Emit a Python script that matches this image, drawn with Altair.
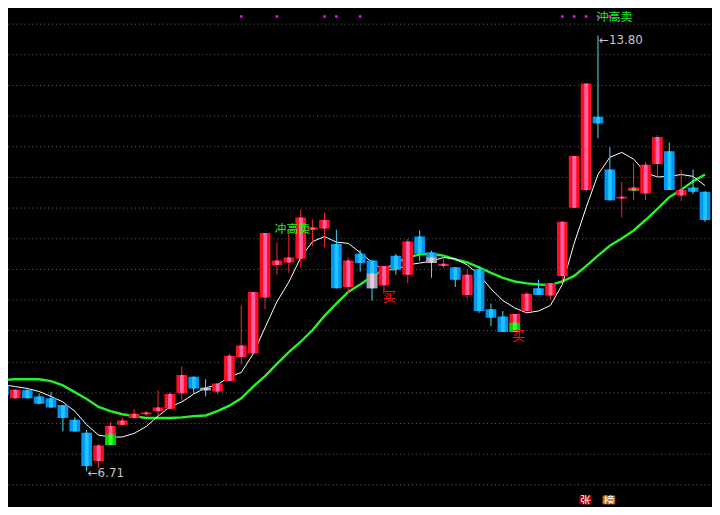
import altair as alt
import pandas as pd
import numpy as np

# ---- candle data (index, open, high, low, close) ----
idx = list(range(-1, 59))
opens = [8.11, 7.90, 8.03, 7.93, 7.90, 7.79, 7.55, 7.34, 6.88, 7.14,
         7.47, 7.58, 7.64, 7.69, 7.73, 7.98, 8.25, 8.07, 8.01, 8.18,
         8.57, 8.63, 9.54, 10.07, 10.11, 10.17, 10.64, 10.66, 10.41, 9.71,
         10.25, 10.14, 9.74, 10.22, 9.91, 10.53, 10.27, 10.05, 10.03, 9.58,
         10.00, 9.35, 9.23, 8.98, 9.32, 9.69, 9.57, 9.89, 11.00, 11.29,
         12.48, 11.62, 11.15, 11.28, 11.23, 11.71, 11.92, 11.20, 11.33, 11.26]
highs = [8.13, 8.05, 8.07, 7.98, 8.00, 7.79, 7.59, 7.39, 7.16, 7.51,
         7.59, 7.73, 7.70, 8.03, 8.00, 8.42, 8.25, 8.21, 8.14, 8.63,
         9.41, 9.63, 10.59, 10.44, 10.64, 10.97, 10.81, 10.92, 10.64, 10.19,
         10.31, 10.14, 10.05, 10.25, 10.49, 10.63, 10.30, 10.19, 10.03, 9.99,
         10.05, 9.44, 9.32, 9.27, 9.63, 9.83, 9.77, 10.77, 11.84, 13.02,
         13.80, 11.98, 11.42, 11.73, 11.75, 12.18, 12.06, 11.62, 11.62, 11.26]
lows = [7.93, 7.89, 7.90, 7.81, 7.75, 7.36, 7.36, 6.71, 6.77, 7.14,
        7.46, 7.57, 7.61, 7.61, 7.73, 7.86, 7.98, 7.93, 7.97, 8.18,
        8.45, 8.63, 9.35, 9.91, 9.94, 10.03, 10.38, 10.36, 9.69, 9.60,
        9.96, 9.49, 9.60, 9.91, 9.77, 10.13, 9.86, 10.02, 9.71, 9.52,
        9.29, 9.07, 8.98, 8.98, 9.32, 9.58, 9.51, 9.80, 11.00, 11.26,
        12.13, 11.12, 10.84, 11.12, 11.12, 11.48, 11.29, 11.11, 11.22, 10.77]
closes = [7.95, 8.04, 7.90, 7.81, 7.75, 7.58, 7.36, 6.80, 7.13, 7.45,
          7.54, 7.65, 7.67, 7.75, 7.97, 8.28, 8.06, 8.03, 8.14, 8.59,
          8.76, 9.63, 10.59, 10.14, 10.19, 10.84, 10.68, 10.80, 9.69, 10.14,
          10.10, 9.69, 10.05, 9.99, 10.45, 10.25, 10.10, 10.09, 9.83, 9.91,
          9.32, 9.21, 8.98, 9.27, 9.60, 9.58, 9.77, 10.77, 11.84, 13.02,
          12.37, 11.12, 11.18, 11.33, 11.70, 12.15, 11.29, 11.29, 11.26, 10.80]

# ---- moving averages ----
ma_short = [8.12, 8.09, 8.06, 8.01, 7.93, 7.84, 7.69, 7.47, 7.30, 7.27,
            7.27, 7.33, 7.44, 7.61, 7.76, 7.84, 7.97, 8.07, 8.12, 8.25,
            8.32, 8.62, 9.05, 9.47, 9.79, 10.19, 10.45, 10.53, 10.44, 10.42,
            10.27, 10.11, 9.99, 9.99, 10.07, 10.10, 10.13, 10.19, 10.17, 10.07,
            9.91, 9.68, 9.49, 9.37, 9.29, 9.32, 9.41, 9.75, 10.42, 11.00,
            11.54, 11.82, 11.90, 11.79, 11.57, 11.50, 11.51, 11.54, 11.51, 11.36]
ma_long = [8.20, 8.21, 8.21, 8.21, 8.18, 8.11, 8.00, 7.89, 7.76, 7.69,
           7.64, 7.61, 7.58, 7.58, 7.58, 7.59, 7.61, 7.62, 7.69, 7.78,
           7.90, 8.09, 8.26, 8.46, 8.65, 8.82, 9.01, 9.24, 9.44, 9.63,
           9.75, 9.88, 9.99, 10.10, 10.19, 10.24, 10.25, 10.22, 10.16, 10.11,
           10.03, 9.94, 9.86, 9.80, 9.77, 9.75, 9.74, 9.80, 9.89, 10.05,
           10.22, 10.38, 10.50, 10.63, 10.80, 10.98, 11.17, 11.29, 11.43, 11.54]

# ---- coloured overlays on some bodies ----
ov_idx = [8, 16, 30, 35, 42, 52]
ov_top = [7.31, 8.07, 9.93, 10.19, 9.13, 11.30]
ov_bot = [7.14, 8.03, 9.69, 10.10, 8.98, 11.28]
ov_kind = ["green", "grey", "grey", "grey", "green", "green"]

grid_vals = [6.5, 7.0, 7.5, 8.0, 8.5, 9.0, 9.5, 10.0, 10.5, 11.0,
             11.5, 12.0, 12.5, 13.0, 13.5, 14.0]
dot_idx = [19, 22, 26, 27, 29, 46, 47, 48, 49, 50]
dot_price = 14.11

df = pd.DataFrame({"i": idx, "open": opens, "high": highs, "low": lows,
                   "close": closes, "ma_short": ma_short, "ma_long": ma_long})
df["dir"] = np.where(df["close"] >= df["open"], "up", "down")
df["top"] = df[["open", "close"]].max(axis=1)
df["bot"] = df[["open", "close"]].min(axis=1)

ov = pd.DataFrame({"i": ov_idx, "top": ov_top, "bot": ov_bot, "kind": ov_kind})
dots = pd.DataFrame({"i": dot_idx, "p": [dot_price] * len(dot_idx)})

xs = alt.Scale(domain=[-0.617, 58.59], nice=False, zero=False)
ys = alt.Scale(domain=[6.177, 14.187], nice=False, zero=False)
yax = alt.Axis(values=grid_vals, grid=True, labels=False, ticks=False, domain=False,
               title=None, minExtent=0, maxExtent=0, gridColor="#6a6a6a",
               gridDash=[1, 3], gridWidth=1, gridOpacity=1)


def X(f):
    return alt.X(f, type="quantitative", scale=xs, axis=None)


def Y(f):
    return alt.Y(f, type="quantitative", scale=ys, axis=yax)


dir_body = alt.Color("dir:N", scale=alt.Scale(domain=["up", "down"], range=["#ff0d1f", "#0097f5"]), legend=None)
dir_stripe = alt.Color("dir:N", scale=alt.Scale(domain=["up", "down"], range=["#ff62aa", "#22c4ff"]), legend=None)
dir_wick = alt.Color("dir:N", scale=alt.Scale(domain=["up", "down"], range=["#ff2a2a", "#40e2ff"]), legend=None)
ov_body = alt.Color("kind:N", scale=alt.Scale(domain=["green", "grey"], range=["#00d400", "#a6a6a6"]), legend=None)
ov_stripe = alt.Color("kind:N", scale=alt.Scale(domain=["green", "grey"], range=["#3cff3c", "#ecc8e8"]), legend=None)

base = alt.Chart(df)

long_line = base.mark_line(color="#26f226", strokeWidth=2.4, clip=True).encode(x=X("i"), y=Y("ma_long"))
short_line = base.mark_line(color="#ffffff", strokeWidth=1, clip=True).encode(x=X("i"), y=Y("ma_short"))

wicks = base.mark_rule(strokeWidth=1, clip=True).encode(x=X("i"), y=Y("low"), y2="high", color=dir_wick)

bodies = base.transform_calculate(xl="datum.i - 0.45", xr="datum.i + 0.45").mark_rect(clip=True).encode(
    x=X("xl:Q"), x2="xr:Q", y=Y("top"), y2="bot", color=dir_body)
stripes = base.transform_calculate(xl="datum.i - 0.15", xr="datum.i + 0.17").mark_rect(clip=True).encode(
    x=X("xl:Q"), x2="xr:Q", y=Y("top"), y2="bot", color=dir_stripe)

ovb = alt.Chart(ov).transform_calculate(xl="datum.i - 0.45", xr="datum.i + 0.45").mark_rect(clip=True).encode(
    x=X("xl:Q"), x2="xr:Q", y=Y("top"), y2="bot", color=ov_body)
ovs = alt.Chart(ov).transform_calculate(xl="datum.i - 0.15", xr="datum.i + 0.17").mark_rect(clip=True).encode(
    x=X("xl:Q"), x2="xr:Q", y=Y("top"), y2="bot", color=ov_stripe)

# ---- texts ----
cjk = "Noto Sans CJK SC"
green_txt = pd.DataFrame({"t": ["冲高卖", "冲高卖"], "i": [23.3, 50.4], "p": [10.66, 14.10]})
buy_txt = pd.DataFrame({"t": ["买", "买"], "i": [31.46, 42.3], "p": [9.55, 8.91]})
ext_txt = pd.DataFrame({"t": ["←6.71", "←13.80"], "i": [6.0, 49.0], "p": [6.69, 13.72]})
badge = pd.DataFrame({"t": ["张", "榜"], "xl": [47.41, 49.38], "xr": [48.48, 50.45],
                      "i": [47.95, 49.92], "top": [6.32, 6.32], "bot": [6.10, 6.10],
                      "p": [6.21, 6.21], "kind": ["a", "b"]})

g_text = alt.Chart(green_txt).mark_text(font=cjk, fontSize=12, color="#1ef01e").encode(
    x=X("i"), y=Y("p"), text="t:N")
b_text = alt.Chart(buy_txt).mark_text(font=cjk, fontSize=13, color="#ff1010").encode(
    x=X("i"), y=Y("p"), text="t:N")
e_text = alt.Chart(ext_txt).mark_text(font="DejaVu Sans", fontSize=12, color="#c4c4c4", align="left", dx=1).encode(
    x=X("i"), y=Y("p"), text="t:N")
dot_marks = alt.Chart(dots).mark_square(size=7, color="#ff00ff", opacity=1, filled=True).encode(x=X("i"), y=Y("p"))
badge_rect = alt.Chart(badge).mark_rect(clip=True).encode(
    x=X("xl:Q"), x2="xr:Q", y=Y("top"), y2="bot",
    color=alt.Color("kind:N", scale=alt.Scale(domain=["a", "b"], range=["#9a0000", "#b85c00"]), legend=None))
badge_text = alt.Chart(badge).mark_text(font=cjk, fontSize=11, color="#ffffff", clip=True).encode(
    x=X("i"), y=Y("p"), text="t:N")

chart = alt.layer(
    long_line, short_line, wicks, bodies, stripes, ovb, ovs,
    g_text, b_text, e_text, dot_marks, badge_rect, badge_text
).resolve_scale(color="independent").properties(
    width=712, height=499,
    autosize=alt.AutoSizeParams(type="fit", contains="padding"),
    padding=0,
    background="#000000",
).configure_view(strokeWidth=0)

chart.save("out.html", embed_options={"renderer": "svg", "actions": False})
